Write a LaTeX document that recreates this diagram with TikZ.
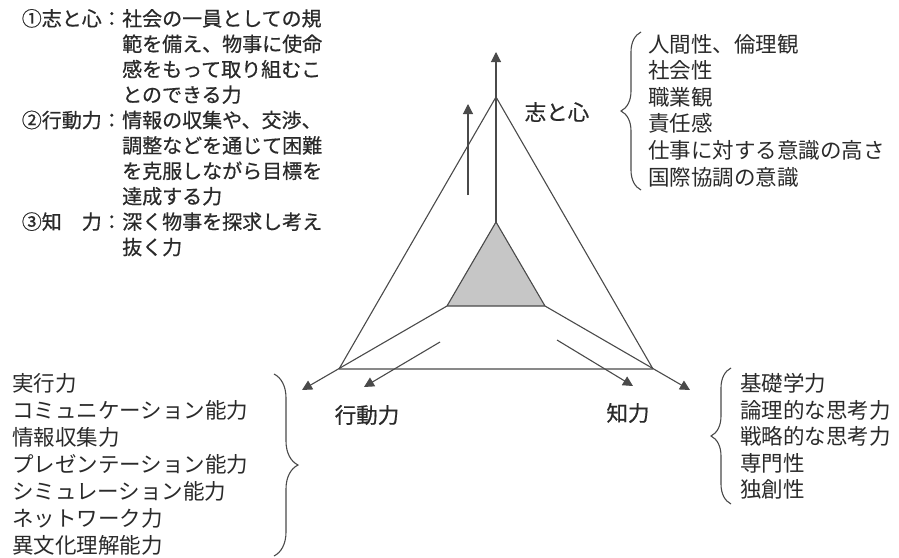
\documentclass[tikz,border=0pt]{standalone}
\usepackage{fontspec}
\newfontfamily\jp{Noto Sans CJK JP}
\newfontfamily\jpdark[FakeBold=0.6]{Noto Sans CJK JP}
\usetikzlibrary{arrows.meta,decorations.pathreplacing}
\definecolor{ink}{HTML}{2A2A2A}
\definecolor{lin}{HTML}{4A4A4A}
\definecolor{innergray}{HTML}{C6C6C6}
\begin{document}
\begin{tikzpicture}[x=1pt,y=-1pt,
  deftext/.style={inner sep=0pt,anchor=base west,text=ink,font=\jpdark\fontsize{20}{24}\selectfont},
  deflabel/.style={inner sep=0pt,anchor=base east,text=ink,font=\jpdark\fontsize{20}{24}\selectfont},
  listtext/.style={inner sep=0pt,anchor=base west,text=ink,font=\jp\fontsize{21.5}{26}\selectfont},
  axislabel/.style={inner sep=0pt,text=ink,font=\jpdark\fontsize{21.5}{25}\selectfont},
  edge/.style={draw=lin,line width=1.1pt},
  arr/.style={draw=lin,line width=1.1pt,-{Triangle[width=10pt,length=10pt]}},
  bracestyle/.style={draw=lin,line width=1.1pt,decorate,decoration={brace,amplitude=#1}}
]
\useasboundingbox (0,0) rectangle (899,557);
\fill[white] (0,0) rectangle (899,557);

% definitions at top left
\foreach \t [count=\i from 0] in {社会の一員としての規,範を備え、物事に使命,感をもって取り組むこ,とのできる力,情報の収集や、交渉、,調整などを通じて困難,を克服しながら目標を,達成する力,深く物事を探求し考え,抜く力}
  \node[deftext] (d\i) at (122,{26+25.4*\i}) {\t};
\node[deflabel] (l1) at (122,26) {①志と心：};
\node[deflabel] (l2) at (122,{26+25.4*4}) {②行動力：};
\node[deflabel] (l3) at (122,{26+25.4*8}) {③知　力：};

% triangle geometry
\coordinate (A) at (496,97);
\coordinate (BL) at (339,369);
\coordinate (BR) at (653,369);
\coordinate (IA) at (496,222);
\coordinate (IL) at (447,306);
\coordinate (IR) at (545,306);
\coordinate (TA) at (496,52);
\coordinate (TL) at (302,390);
\coordinate (TR) at (690,390);

\fill[innergray] (IA) -- (IL) -- (IR) -- cycle;
\draw[edge,line join=round] (A) -- (BL) -- (BR) -- cycle;
\draw[edge,line join=round] (IA) -- (IL) -- (IR) -- cycle;
\draw[arr] (IA) -- (TA);
\draw[arr] (IL) -- (TL);
\draw[arr] (IR) -- (TR);

% side arrows
\coordinate (v0) at (468,195); \coordinate (v1) at (468,104);
\draw[arr] (v0) -- (v1);
\coordinate (p0) at (440,342); \coordinate (p1) at (364,387);
\draw[arr] (p0) -- (p1);
\coordinate (q0) at (557,340); \coordinate (q1) at (633,386);
\draw[arr] (q0) -- (q1);

% axis labels
\node[axislabel] (kok) at (557,112) {志と心};
\node[axislabel] (kou) at (367,415) {行動力};
\node[axislabel] (chi) at (628,413) {知力};

% top right list
\foreach \t [count=\i from 0] in {人間性、倫理観,社会性,職業観,責任感,仕事に対する意識の高さ,国際協調の意識}
  \node[listtext] (r\i) at (648,{52+26.6*\i}) {\t};
\coordinate (br1a) at (641,190); \coordinate (br1b) at (641,32);
\draw[bracestyle=20pt] (br1a) -- (br1b);

% bottom right list
\foreach \t [count=\i from 0] in {基礎学力,論理的な思考力,戦略的な思考力,専門性,独創性}
  \node[listtext] (s\i) at (740,{391.5+26.5*\i}) {\t};
\coordinate (br2a) at (731,504); \coordinate (br2b) at (731,368);
\draw[bracestyle=20pt] (br2a) -- (br2b);

% bottom left list
\foreach \t [count=\i from 0] in {実行力,コミュニケーション能力,情報収集力,プレゼンテーション能力,シミュレーション能力,ネットワーク力,異文化理解能力}
  \node[listtext] (b\i) at (12,{391.5+27*\i}) {\t};
\coordinate (br3a) at (274,374); \coordinate (br3b) at (274,556);
\draw[bracestyle=24pt] (br3a) -- (br3b);
\end{tikzpicture}
\end{document}
